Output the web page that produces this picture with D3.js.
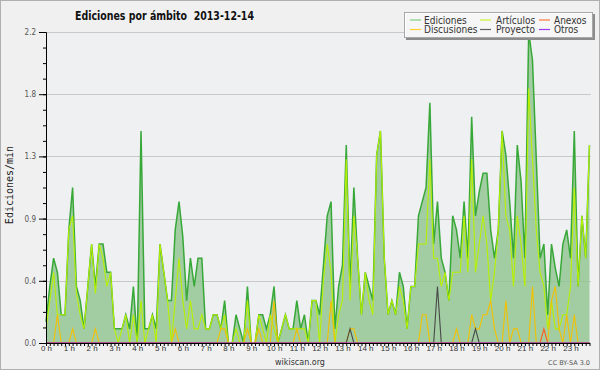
<!DOCTYPE html>
<html><head><meta charset="utf-8">
<script src="https://cdn.jsdelivr.net/npm/d3@7/dist/d3.min.js"></script>
<style>body{margin:0;background:#f0f0f0}svg{display:block}</style>
</head><body>
<script>
// ---- data (edits per minute, 10-minute slots, 2013-12-14) ----
const hourLabels = ["0 h","1 h","2 h","3 h","4 h","5 h","6 h","7 h","8 h","9 h","10 h","11 h",
  "12 h","13 h","14 h","15 h","16 h","17 h","18 h","19 h","20 h","21 h","22 h","23 h"];
const hourSlots = [0,6,12,18,24,30,36,42,48,54,60,66,72,78,84,90,96,102,108,114,120,126,132,138];

const ediciones = [
  0.15,0.4,0.6,0.5,0.2,0.2,0.8,1.1,0.4,0.3,0.1,0.4,
  0.7,0.4,0.7,0.7,0.5,0.5,0.1,0.1,0.1,0.2,0.1,0.4,
  0,1.5,0.1,0.1,0.2,0.1,0.7,0.5,0.3,0.3,0.8,1.0,
  0.75,0.3,0.6,0.4,0.6,0.6,0.1,0.1,0.2,0.2,0.1,0.3,
  0,0,0.2,0.1,0,0.4,0,0,0.2,0.2,0.1,0.2,
  0.4,0,0.1,0.2,0.1,0.1,0.3,0.1,0.2,0,0.3,0.3,
  0.2,0.55,0.9,1.0,0.1,0.4,0.55,1.4,0.4,1.1,0.6,0.2,
  0.5,0.4,0.3,1.33,1.5,0.6,0.2,0.3,0.2,0.5,0.4,0.1,
  0.4,0.4,0.9,1.0,1.1,1.7,0.7,1.0,0.6,0.5,0.3,0.9,
  0.8,0.6,1.0,0.6,1.6,0.9,1.07,1.2,1.2,0.8,0.6,0.8,
  1.5,1.33,1.0,0.6,1.4,1.14,0.6,2.2,2.0,1.3,0.6,0.7,
  0.2,0.7,0.53,0.4,0.7,0.8,0.6,1.5,0.4,0.9,0.6,1.4];

const articulos = [
  0.1,0.3,0.5,0.2,0.2,0.2,0.8,0.9,0.35,0.2,0.1,0.4,
  0.7,0.35,0.7,0.6,0.4,0.5,0.1,0,0.1,0.2,0,0.2,
  0,0.3,0,0.1,0.2,0,0.7,0.5,0.3,0,0.3,0.6,
  0.3,0.1,0.3,0.1,0.1,0.2,0.1,0.1,0.2,0.2,0.1,0.2,
  0,0,0.1,0,0,0.3,0,0,0.2,0.1,0,0.2,
  0.1,0,0.1,0.2,0.1,0.1,0.1,0.1,0.1,0,0.3,0.3,
  0,0.45,0.7,0.5,0,0.2,0.3,1.3,0.3,0.9,0.6,0.2,
  0.5,0.3,0.2,1.33,1.5,0.6,0.2,0.3,0.2,0.4,0.3,0.1,
  0.4,0.4,0.7,0.7,0.7,1.3,0.6,0.6,0.4,0.5,0.3,0.5,
  0.5,0.5,0.9,0.5,1.3,0.5,0.7,0.9,0.7,0.3,0.5,0.8,
  1.5,0.9,0.8,0.4,0.9,0.7,0.4,1.8,1.3,0.8,0.5,0.4,
  0.1,0.3,0.1,0.1,0.2,0.2,0.4,1.1,0.4,0.9,0.6,1.4];

const discusiones = [
  0,0,0,0.2,0,0,0,0.1,0,0,0,0,
  0,0.1,0,0,0,0,0,0,0,0,0,0,
  0,0,0,0,0,0,0,0,0,0,0.1,0,
  0,0,0,0,0,0,0,0,0,0,0.1,0.1,
  0,0,0,0,0,0.1,0,0,0.1,0,0,0,
  0.3,0,0,0,0,0,0.1,0,0,0,0,0,
  0,0,0,0.3,0,0,0,0,0.1,0.1,0,0,
  0,0,0,0,0,0,0,0,0,0,0,0,
  0,0,0,0.2,0.2,0,0,0,0,0,0,0,
  0.1,0,0,0,0.2,0.1,0.1,0.2,0.2,0.3,0.1,0,
  0,0.3,0,0.1,0.1,0,0,0,0.4,0,0,0,
  0,0.3,0.4,0.1,0,0.2,0,0.2,0,0,0,0];

const proyecto = [
  0,0,0,0,0,0,0,0,0,0,0,0,
  0,0,0,0,0,0,0,0,0,0,0,0,
  0,0,0,0,0,0,0,0,0,0,0,0,
  0,0,0,0,0,0,0,0,0,0,0,0,
  0,0,0,0,0,0,0,0,0,0,0,0,
  0,0,0,0,0,0,0,0,0,0,0,0,
  0,0,0,0,0,0,0,0,0.1,0,0,0,
  0,0,0,0,0,0,0,0,0,0,0,0,
  0,0,0,0,0,0,0,0.4,0,0,0,0,
  0,0,0,0,0,0.1,0,0,0,0,0,0,
  0,0,0,0,0,0,0,0,0,0,0,0,
  0,0,0,0,0,0,0,0,0,0,0,0];

const anexos = [
  0,0,0,0,0,0,0,0,0,0,0,0,
  0,0,0,0,0,0,0,0,0,0,0,0,
  0,0,0,0,0,0,0,0,0,0,0,0,
  0,0,0,0,0,0,0,0,0,0,0,0,
  0,0,0,0,0,0,0,0,0,0,0,0,
  0,0,0,0,0,0,0,0,0,0,0,0,
  0,0,0,0,0,0,0,0,0,0,0,0,
  0,0,0,0,0,0,0,0,0,0,0,0,
  0,0,0,0,0,0,0,0,0,0,0,0,
  0,0,0,0,0,0,0,0,0,0,0,0,
  0,0,0,0,0,0,0,0,0,0,0,0.1,
  0,0,0,0,0,0,0,0,0,0,0,0];

const otros = [
  0,0,0,0,0,0,0,0,0,0,0,0,
  0,0,0,0,0,0,0,0,0,0,0,0,
  0,0,0,0,0,0,0,0,0,0,0,0,
  0,0,0,0,0,0,0,0,0,0,0,0,
  0,0,0,0,0,0,0,0,0,0,0,0,
  0,0,0,0,0,0,0,0,0,0,0,0,
  0,0,0,0,0,0,0,0,0,0,0,0,
  0,0,0,0,0,0,0,0,0,0,0,0,
  0,0,0,0,0,0,0,0,0,0,0,0,
  0,0,0,0,0,0,0,0,0,0,0,0,
  0,0,0,0,0,0,0,0,0,0,0,0,
  0,0,0,0,0,0,0,0,0,0,0,0];

const yTickValues = [0, 0.44, 0.88, 1.32, 1.76, 2.2];
const yTickLabels = ["0.0","0.4","0.9","1.3","1.8","2.2"];
const seriesNames = ["Ediciones","Discusiones","Artículos","Proyecto","Anexos","Otros"];
const legendColors = ["#80d080","#ffd030","#ccf530","#606060","#ff7a40","#9a3cf0"];
const lineColors = ["#38a838","#f2c000","#b8f000","#484848","#ff5a1e","#9a3cf0"];

// ---- drawing ----
const W = 600, H = 370;
const L = 46, R = 591, T = 32, B = 343;
const svg = d3.select("body").append("svg").attr("width", W).attr("height", H)
  .style("font-family", "'DejaVu Sans', sans-serif");

svg.append("rect").attr("x", 0.5).attr("y", 0.5).attr("width", W - 1).attr("height", H - 1)
  .attr("fill", "#f0f0f0").attr("stroke", "#b0b0b0");

const x = d3.scaleLinear().domain([0, ediciones.length - 1]).range([L, 589.5]);
const y = d3.scaleLinear().domain([0, 2.2]).range([B, T]);

svg.append("rect").attr("x", L).attr("y", T).attr("width", R - L).attr("height", B - T)
  .attr("fill", "#eef0f2");

// gridlines
svg.append("g").selectAll("line").data(yTickValues.slice(1)).join("line")
  .attr("x1", L).attr("x2", R)
  .attr("y1", d => Math.round(y(d)) + 0.5).attr("y2", d => Math.round(y(d)) + 0.5)
  .attr("stroke", "#c8c8c8").attr("stroke-width", 1);

// area under Ediciones
const idx = d3.range(ediciones.length);
svg.append("path").datum(idx)
  .attr("d", d3.area().x(i => x(i)).y0(y(0)).y1(i => y(ediciones[i])))
  .attr("fill", "#8fc48f").attr("fill-opacity", 0.8);

const seriesData = [ediciones, discusiones, articulos, proyecto, anexos, otros];
const drawOrder = [0, 2, 1, 3, 4, 5];
const lineGen = vals => d3.line().x(i => x(i)).y(i => y(vals[i]))(idx);
drawOrder.forEach(k => {
  svg.append("path").attr("d", lineGen(seriesData[k]))
    .attr("fill", "none").attr("stroke", lineColors[k])
    .attr("stroke-width", k === 0 ? 1.5 : 1.1).attr("stroke-linejoin", "miter");
});

// axes
const yMinor = d3.range(0, 21).map(k => k * 0.11);
const gyMinor = svg.append("g").attr("transform", `translate(${L},0)`)
  .call(d3.axisLeft(y).tickValues(yMinor).tickSize(3).tickSizeOuter(0).tickFormat(""));
const gy = svg.append("g").attr("transform", `translate(${L},0)`)
  .call(d3.axisLeft(y).tickValues(yTickValues).tickSize(7).tickSizeOuter(0).tickPadding(3)
    .tickFormat((d, i) => yTickLabels[i]));
gy.selectAll("text").attr("font-size", 8).attr("fill", "#555")
  .style("font-family", "'DejaVu Sans Condensed','DejaVu Sans',sans-serif");

const gxMinor = svg.append("g").attr("transform", `translate(0,${B})`)
  .call(d3.axisBottom(x).tickValues(idx).tickSize(3).tickSizeOuter(0).tickFormat(""));
const gx = svg.append("g").attr("transform", `translate(0,${B})`)
  .call(d3.axisBottom(x).tickValues(hourSlots).tickSize(0).tickSizeOuter(0).tickPadding(2)
    .tickFormat((d, i) => hourLabels[i]));
gx.selectAll("text").attr("font-size", 8).attr("fill", "#333");
gx.select(".domain").remove();
[gyMinor, gy, gxMinor].forEach(g => {
  g.selectAll("line").attr("stroke", "#000");
  g.select(".domain").attr("stroke", "#000");
});

// y axis title
svg.append("text").attr("transform", "translate(13,185) rotate(-90)")
  .attr("text-anchor", "middle").attr("font-size", 10).attr("fill", "#222")
  .style("font-family", "'DejaVu Sans Mono',monospace")
  .text("Ediciones/min");

// title
svg.append("text").attr("x", 75).attr("y", 20).attr("font-size", 12).attr("font-weight", "bold")
  .attr("fill", "#111").attr("textLength", 179).attr("lengthAdjust", "spacingAndGlyphs")
  .attr("xml:space", "preserve").style("white-space", "pre")
  .text("Ediciones por ámbito  2013-12-14");

// legend
const lg = svg.append("g");
lg.append("rect").attr("x", 406).attr("y", 14).attr("width", 189).attr("height", 26).attr("fill", "#8c8c8c");
lg.append("rect").attr("x", 404.5).attr("y", 12.5).attr("width", 188).attr("height", 25)
  .attr("fill", "#ffffff").attr("fill-opacity", 0.92).attr("stroke", "#a8a8a8");
const colLineX = [410, 480, 539];
const colTextX = [424, 496, 554];
const rowLineY = [20, 29.5];
const rowTextY = [23.5, 33];
seriesNames.forEach((name, k) => {
  const c = Math.floor(k / 2), r = k % 2;
  lg.append("line").attr("x1", colLineX[c]).attr("x2", colLineX[c] + 11)
    .attr("y1", rowLineY[r]).attr("y2", rowLineY[r])
    .attr("stroke", legendColors[k]).attr("stroke-width", 1.2);
  lg.append("text").attr("x", colTextX[c]).attr("y", rowTextY[r])
    .attr("font-size", 10).attr("fill", "#333")
    .style("font-family", "'DejaVu Sans Condensed','DejaVu Sans',sans-serif")
    .text(name);
});

// footer
svg.append("text").attr("x", 300).attr("y", 365).attr("text-anchor", "middle")
  .attr("font-size", 8).attr("fill", "#333").text("wikiscan.org");
svg.append("text").attr("x", 590).attr("y", 365).attr("text-anchor", "end")
  .attr("font-size", 6.5).attr("fill", "#555").text("CC BY-SA 3.0");
</script>
</body></html>
